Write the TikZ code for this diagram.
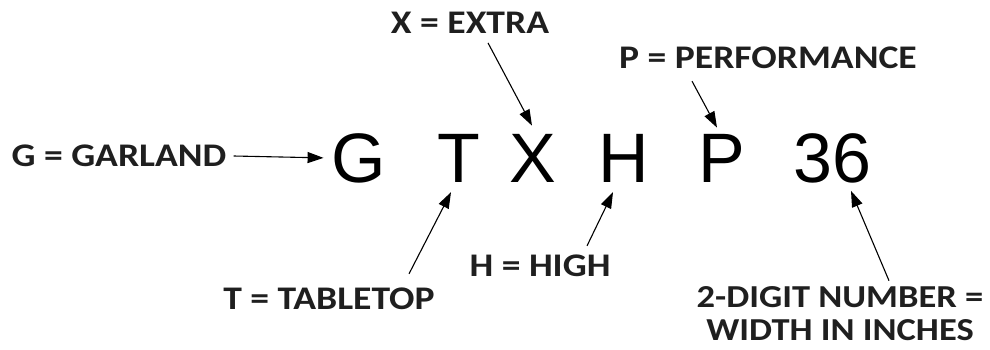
\documentclass[tikz,border=0pt]{standalone}
\usepackage{fontspec}
\setmainfont{Liberation Sans}
\newfontfamily\lblfont{Carlito}[FakeStretch=1.14]
\usepackage{tikz}
\usetikzlibrary{arrows.meta,calc}

\begin{document}
\begin{tikzpicture}[x=1pt,y=-1pt,
  letter/.style={font=\fontsize{70}{70}\selectfont,inner sep=8pt,anchor=base},
  lbl/.style={font=\lblfont\bfseries\fontsize{33}{33}\selectfont,text=black!88,
              align=center,inner sep=3pt},
  ar/.style={-{Triangle[length=16pt,width=11pt]},line width=1.1pt}]
\useasboundingbox (0,0) rectangle (990,350);
% model code letters
\node[letter] (G) at (359,182) {G};
\node[letter] (T) at (459,182) {T};
\node[letter] (X) at (533,182) {X};
\node[letter] (H) at (624,182) {H};
\node[letter] (P) at (722,182) {P};
\node[letter] (N) at (832,182) {36};
% meanings
\node[lbl] (glbl) at (119,156) {G = GARLAND};
\node[lbl] (xlbl) at (470,23) {X = EXTRA};
\node[lbl] (plbl) at (768,58) {P = PERFORMANCE};
\node[lbl] (tlbl) at (329,299) {T = TABLETOP};
\node[lbl] (hlbl) at (540,266) {H = HIGH};
\node[lbl,font=\lblfont\bfseries\fontsize{32}{33}\selectfont] (nlbl) at (840,314)
  {2-DIGIT NUMBER =\\WIDTH IN INCHES};
\draw[ar] ($(glbl.east)+(4,0)$) -- (G.west);
\draw[ar] ($(xlbl.south)+(18,6)$) -- ($(X.north)+(-1,0)$);
\draw[ar] ($(plbl.south)+(-76,9)$) -- ($(P.north)+(-5,2)$);
\draw[ar] ($(tlbl.north)+(80,-11)$) -- ($(T.south)+(-8,2)$);
\draw[ar] ($(hlbl.north)+(47,-6)$) -- ($(H.south)+(-11,2)$);
\draw[ar] ($(nlbl.north)+(49,-3)$) -- ($(N.south)+(19,0)$);
\end{tikzpicture}
\end{document}
